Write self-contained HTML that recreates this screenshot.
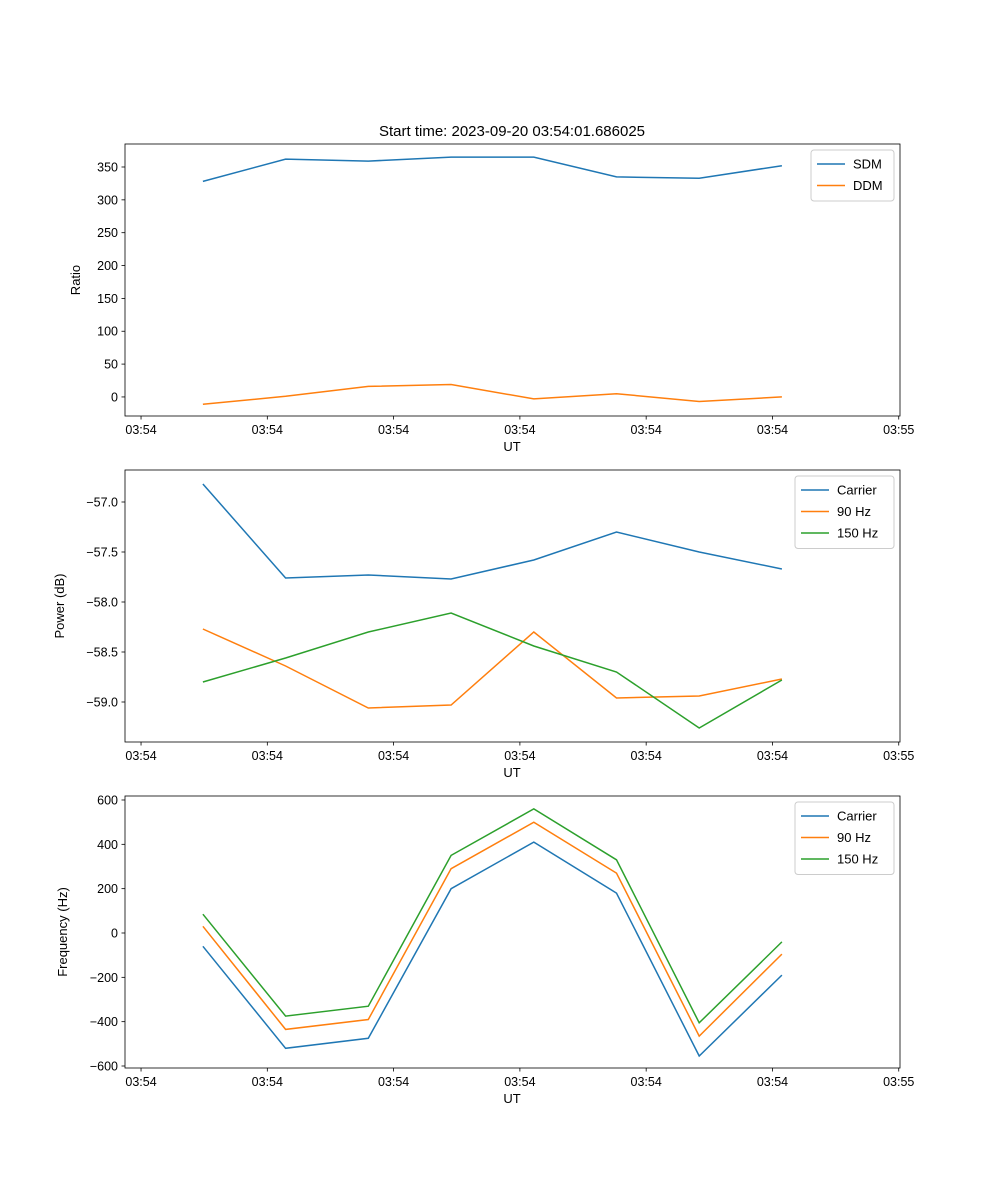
<!DOCTYPE html>
<html><head><meta charset="utf-8">
<style>
body{margin:0;background:#fff;}
svg{display:block;font-family:"Liberation Sans","DejaVu Sans",sans-serif;}
</style></head>
<body>
<svg id="fig" width="1000" height="1200" xmlns="http://www.w3.org/2000/svg">
<text x="512" y="136" font-size="15" text-anchor="middle">Start time: 2023-09-20 03:54:01.686025</text>
</svg>
<script>
const times = [0.49, 1.145, 1.80, 2.455, 3.11, 3.765, 4.42, 5.075];
const xTickVals = [0,1,2,3,4,5,6];
const xTickLabels = ["03:54","03:54","03:54","03:54","03:54","03:54","03:55"];
const sdm = [328, 362, 359, 365, 365, 335, 333, 352];
const ddm = [-11, 1, 16, 19, -3, 5, -7, 0];
const pCarrier = [-56.82, -57.76, -57.73, -57.77, -57.58, -57.30, -57.50, -57.67];
const p90 = [-58.27, -58.64, -59.06, -59.03, -58.30, -58.96, -58.94, -58.77];
const p150 = [-58.80, -58.56, -58.30, -58.11, -58.44, -58.70, -59.26, -58.78];
const fCarrier = [-60, -520, -475, 200, 410, 180, -555, -190];
const f90 = [30, -435, -390, 290, 500, 270, -465, -95];
const f150 = [85, -375, -330, 350, 560, 330, -405, -40];
const ticks1 = [0,50,100,150,200,250,300,350];
const ticks2 = [-57.0,-57.5,-58.0,-58.5,-59.0];
const ticks3 = [600,400,200,0,-200,-400,-600];

const NS="http://www.w3.org/2000/svg";
const svg=document.getElementById('fig');
function mk(tag,attrs,parent){const e=document.createElementNS(NS,tag);for(const k in attrs)e.setAttribute(k,attrs[k]);(parent||svg).appendChild(e);return e;}
const X0=125,X1=900,xmin=-0.127,xmax=6.01;
const xs=v=>X0+(v-xmin)/(xmax-xmin)*(X1-X0);
const colors=["#1f77b4","#ff7f0e","#2ca02c"];

function panel(name,top,bot,ymin,ymax,yticks,fmt,ylabel,series,labels,legW){
  const ys=v=>bot-(v-ymin)/(ymax-ymin)*(bot-top);
  const g=mk('g',{});
  
  
  series.forEach((s,i)=>{
    const p=mk('polyline',{points:s.map((v,j)=>xs(times[j]).toFixed(1)+','+ys(v).toFixed(1)).join(' '),fill:'none',stroke:colors[i],'stroke-width':1.5},g);
    
    
  });
  const r=mk('rect',{x:X0,y:top,width:X1-X0,height:bot-top,fill:'none',stroke:'#000','stroke-width':0.8},g);
  
  
  xTickVals.forEach((v,i)=>{
    const x=xs(v);
    mk('line',{x1:x,x2:x,y1:bot,y2:bot+3.5,stroke:'#000','stroke-width':0.8},g);
    const t=mk('text',{x:x,y:bot+18,'font-size':12.5,'text-anchor':'middle'},g);
    t.textContent=xTickLabels[i];
    
    
  });
  yticks.forEach(v=>{
    const y=ys(v);
    mk('line',{x1:X0-3.5,x2:X0,y1:y,y2:y,stroke:'#000','stroke-width':0.8},g);
    const t=mk('text',{x:X0-7,y:y+4.5,'font-size':12.5,'text-anchor':'end'},g);
    t.textContent=fmt(v);
    
    
  });
  const xl=mk('text',{x:512,y:bot+35,'font-size':13,'text-anchor':'middle'},g);
  xl.textContent='UT';
  
  
  const lx = name==='ratio'?80:(name==='power'?64:67);
  const yl=mk('text',{x:lx,y:(top+bot)/2,'font-size':13,'text-anchor':'middle',transform:`rotate(-90 ${lx} ${(top+bot)/2})`},g);
  yl.textContent=ylabel;
  
  
  const lg=mk('g',{},g);
  
  
  const lh=labels.length*21.5+8;
  mk('rect',{x:X1-6-legW,y:top+6,width:legW,height:lh,rx:3,fill:'#fff',stroke:'#ccc','stroke-width':1},lg);
  labels.forEach((l,i)=>{
    const yy=top+6+14+i*21.5;
    mk('line',{x1:X1-6-legW+6,x2:X1-6-legW+34,y1:yy,y2:yy,stroke:colors[i],'stroke-width':1.5},lg);
    const t=mk('text',{x:X1-6-legW+42,y:yy+4.5,'font-size':13},lg);
    t.textContent=l;
    
    
  });
}
const minus=s=>s.replace('-','\u2212');
panel('ratio',144,416,-29,385,ticks1,v=>minus(String(v)),'Ratio',[sdm,ddm],['SDM','DDM'],83);
panel('power',470,742,-59.40,-56.68,ticks2,v=>minus(v.toFixed(1)),'Power (dB)',[pCarrier,p90,p150],['Carrier','90 Hz','150 Hz'],99);
panel('frequency',796,1068,-609,618,ticks3,v=>minus(String(v)),'Frequency (Hz)',[fCarrier,f90,f150],['Carrier','90 Hz','150 Hz'],99);
</script>
</body></html>
